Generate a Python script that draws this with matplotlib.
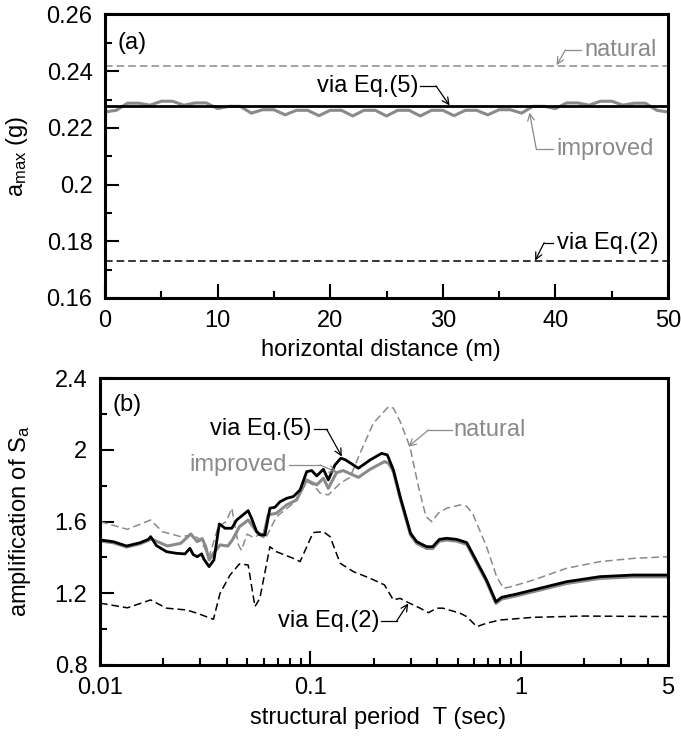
import matplotlib
matplotlib.use("Agg")
import matplotlib.pyplot as plt
from matplotlib.ticker import MultipleLocator, FixedLocator, LogLocator, NullFormatter, FuncFormatter

plt.rcParams['font.family'] = ['Liberation Sans', 'DejaVu Sans']
plt.rcParams['mathtext.fontset'] = 'custom'
plt.rcParams['mathtext.rm'] = 'Liberation Sans'
plt.rcParams['mathtext.it'] = 'Liberation Sans'
plt.rcParams['font.size'] = 17

# ---- (a) peak ground acceleration along the section ----
dist = list(range(0, 51))
amax_improved = [0.2256, 0.2262, 0.2287, 0.2287, 0.2280, 0.2294, 0.2294, 0.2280, 0.2288, 0.2288,
                 0.2268, 0.2276, 0.2276, 0.2252, 0.2264, 0.2264, 0.2246, 0.2262, 0.2262, 0.2243,
                 0.2262, 0.2262, 0.2242, 0.2262, 0.2262, 0.2242, 0.2262, 0.2262, 0.2242, 0.2262,
                 0.2262, 0.2243, 0.2262, 0.2262, 0.2246, 0.2264, 0.2264, 0.2252, 0.2276, 0.2276,
                 0.2268, 0.2288, 0.2288, 0.2280, 0.2294, 0.2294, 0.2280, 0.2287, 0.2287, 0.2262,
                 0.2256]
amax_natural = 0.242
amax_eq5 = 0.2277
amax_eq2 = 0.173

# ---- (b) spectral amplification ----
T_eq5 = [0.01, 0.01157, 0.01339, 0.01549, 0.01698, 0.01742, 0.01855, 0.02074, 0.02313, 0.02534,
         0.02676, 0.02773, 0.02897, 0.0304, 0.0312, 0.0330, 0.0348, 0.0369, 0.0393, 0.0423,
         0.0446, 0.0506, 0.0525, 0.0555, 0.0575, 0.0608, 0.0642, 0.0678, 0.0717, 0.0771,
         0.0830, 0.0893, 0.0960, 0.1014, 0.1071, 0.1152, 0.1216, 0.1307, 0.1395, 0.1465,
         0.169, 0.192, 0.218, 0.232, 0.248, 0.267, 0.287, 0.299, 0.320, 0.357,
         0.381, 0.410, 0.444, 0.495, 0.553, 0.594, 0.687, 0.761, 0.811, 0.955,
         1.146, 1.651, 2.378, 3.425, 5.0]
amp_eq5 = [1.498, 1.488, 1.464, 1.482, 1.501, 1.516, 1.466, 1.432, 1.423, 1.420,
           1.451, 1.416, 1.404, 1.420, 1.390, 1.349, 1.386, 1.587, 1.563, 1.563,
           1.609, 1.661, 1.619, 1.544, 1.526, 1.526, 1.675, 1.680, 1.711, 1.730,
           1.740, 1.777, 1.879, 1.885, 1.855, 1.892, 1.833, 1.916, 1.954, 1.945,
           1.898, 1.944, 1.981, 1.972, 1.888, 1.739, 1.609, 1.535, 1.488, 1.460,
           1.460, 1.501, 1.507, 1.501, 1.483, 1.414, 1.274, 1.153, 1.178, 1.196,
           1.219, 1.265, 1.293, 1.302, 1.302]

T_imp = [0.01, 0.01157, 0.01339, 0.01549, 0.01698, 0.01742, 0.0209, 0.0242, 0.0270, 0.0290,
         0.0306, 0.0318, 0.0330, 0.0346, 0.0372, 0.0405, 0.0426, 0.0460, 0.0506, 0.0555,
         0.0597, 0.0630, 0.0690, 0.0771, 0.0860, 0.0960, 0.1014, 0.1071, 0.1152, 0.1216,
         0.133, 0.143, 0.169, 0.192, 0.225, 0.235, 0.248, 0.267, 0.287, 0.299,
         0.320, 0.357, 0.381, 0.410, 0.444, 0.495, 0.553, 0.594, 0.687, 0.761,
         0.811, 0.955, 1.146, 1.651, 2.378, 3.425, 5.0]
amp_imp = [1.492, 1.482, 1.458, 1.476, 1.495, 1.505, 1.464, 1.479, 1.531, 1.488,
           1.505, 1.460, 1.386, 1.423, 1.470, 1.464, 1.498, 1.572, 1.609, 1.544,
           1.516, 1.637, 1.647, 1.693, 1.721, 1.833, 1.818, 1.805, 1.842, 1.786,
           1.873, 1.885, 1.847, 1.892, 1.935, 1.926, 1.878, 1.729, 1.599, 1.525,
           1.478, 1.450, 1.450, 1.491, 1.497, 1.491, 1.473, 1.404, 1.264, 1.143,
           1.168, 1.186, 1.209, 1.255, 1.283, 1.292, 1.292]

T_nat = [0.01, 0.0135, 0.0174, 0.0198, 0.0242, 0.0275, 0.0300, 0.0330, 0.0365, 0.0398,
         0.0423, 0.0455, 0.0470, 0.0500, 0.0540, 0.0580, 0.0620, 0.0690, 0.0830, 0.0960,
         0.1030, 0.1110, 0.1216, 0.1384, 0.1542, 0.172, 0.199, 0.235, 0.248, 0.267,
         0.297, 0.326, 0.354, 0.377, 0.405, 0.444, 0.514, 0.553, 0.594, 0.687,
         0.767, 0.826, 0.900, 1.146, 1.651, 2.378, 3.425, 5.0]
amp_nat = [1.600, 1.557, 1.609, 1.544, 1.516, 1.526, 1.500, 1.404, 1.572, 1.600,
           1.675, 1.470, 1.440, 1.530, 1.510, 1.535, 1.520, 1.628, 1.702, 1.824,
           1.805, 1.760, 1.749, 1.814, 1.847, 1.981, 2.149, 2.242, 2.233, 2.158,
           2.018, 1.795, 1.628, 1.600, 1.647, 1.675, 1.693, 1.686, 1.637, 1.460,
           1.293, 1.228, 1.237, 1.274, 1.340, 1.377, 1.395, 1.404]

T_eq2 = [0.01, 0.0135, 0.0174, 0.0207, 0.0258, 0.0289, 0.0346, 0.0372, 0.0415, 0.0460,
         0.0506, 0.0545, 0.0575, 0.0642, 0.0690, 0.0830, 0.0893, 0.1030, 0.1152, 0.1240,
         0.1384, 0.160, 0.192, 0.2247, 0.2476, 0.2665, 0.297, 0.332, 0.364, 0.398,
         0.426, 0.514, 0.553, 0.617, 0.687, 0.795, 1.146, 2.0, 5.0]
amp_eq2 = [1.145, 1.119, 1.163, 1.117, 1.107, 1.089, 1.055, 1.200, 1.302, 1.364,
           1.358, 1.126, 1.172, 1.460, 1.432, 1.395, 1.377, 1.539, 1.544, 1.516,
           1.368, 1.321, 1.284, 1.247, 1.163, 1.172, 1.144, 1.117, 1.092, 1.117,
           1.117, 1.089, 1.070, 1.014, 1.033, 1.051, 1.066, 1.073, 1.070]

GREY = '#8a8a8a'
DASH = (0, (5, 2.6))


def frame(ax):
    for s in ax.spines.values():
        s.set_linewidth(2.2)
    ax.tick_params(which='both', direction='in', top=False, right=False,
                   width=1.5, labelsize=17, pad=9)
    ax.tick_params(which='major', length=10)
    ax.tick_params(which='minor', length=5)
    ax.yaxis.set_major_formatter(FuncFormatter(lambda v, p: f'{v:g}'))
    ax.xaxis.set_major_formatter(FuncFormatter(lambda v, p: f'{v:g}'))


def callout(ax, label, text_xy, start, elbow, tip, color, ha):
    # label, short leader to the elbow, then an arrow to the curve
    ax.text(*text_xy, label, color=color, ha=ha, va='center', fontsize=17)
    ax.plot([start[0], elbow[0]], [start[1], elbow[1]], color=color, lw=0.9)
    ax.annotate('', xy=tip, xytext=elbow,
                arrowprops=dict(arrowstyle='->', color=color, lw=0.9,
                                shrinkA=0, shrinkB=0, mutation_scale=12))


fig = plt.figure(figsize=(6.81, 7.42), dpi=100)
ax1 = fig.add_axes([0.1542, 0.5984, 0.8267, 0.3821])
ax2 = fig.add_axes([0.1468, 0.1038, 0.8341, 0.3864])

# (a)
ax1.plot(dist, [amax_natural] * len(dist), color=GREY, lw=1.1, ls=DASH)
ax1.plot(dist, amax_improved, color=GREY, lw=2.2)
ax1.plot(dist, [amax_eq5] * len(dist), color='black', lw=2.0)
ax1.plot(dist, [amax_eq2] * len(dist), color='black', lw=1.1, ls=DASH)
ax1.set_xlim(0, 50)
ax1.set_ylim(0.16, 0.26)
frame(ax1)
ax1.xaxis.set_major_locator(MultipleLocator(10))
ax1.xaxis.set_minor_locator(MultipleLocator(5))
ax1.yaxis.set_major_locator(MultipleLocator(0.02))
ax1.yaxis.set_minor_locator(MultipleLocator(0.01))
ax1.set_xlabel('horizontal distance (m)')
ax1.set_ylabel(r'a$_{\mathregular{max}}$ (g)')
ax1.yaxis.set_label_coords(-0.133, 0.5)
ax1.xaxis.set_label_coords(0.49, -0.145)
ax1.text(1.1, 0.2498, '(a)', ha='left', va='center')

callout(ax1, 'natural', (42.6, 0.2475), (42.3, 0.2475), (40.9, 0.2475), (40.1, 0.2421), GREY, 'left')
callout(ax1, 'via Eq.(5)', (27.8, 0.2348), (28.0, 0.2348), (29.4, 0.2348), (30.6, 0.2279), 'black', 'right')
callout(ax1, 'improved', (40.1, 0.2126), (39.8, 0.2126), (38.3, 0.2126), (37.7, 0.2254), GREY, 'left')
callout(ax1, 'via Eq.(2)', (40.1, 0.1795), (39.8, 0.1795), (39.0, 0.1795), (38.2, 0.1732), 'black', 'left')

# (b)
ax2.set_xscale('log')
ax2.plot(T_nat, amp_nat, color=GREY, lw=1.1, ls=DASH)
ax2.plot(T_eq2, amp_eq2, color='black', lw=1.1, ls=DASH)
ax2.plot(T_imp, amp_imp, color=GREY, lw=2.2)
ax2.plot(T_eq5, amp_eq5, color='black', lw=2.0)
ax2.set_xlim(0.01, 5)
ax2.set_ylim(0.8, 2.4)
frame(ax2)
ax2.xaxis.set_major_locator(FixedLocator([0.01, 0.1, 1, 5]))
ax2.xaxis.set_minor_locator(LogLocator(base=10, subs=range(2, 10)))
ax2.xaxis.set_minor_formatter(NullFormatter())
ax2.yaxis.set_major_locator(MultipleLocator(0.4))
ax2.yaxis.set_minor_locator(MultipleLocator(0.2))
ax2.set_xlabel('structural period  T (sec)')
ax2.set_ylabel(r'amplification of S$_{\mathregular{a}}$')
ax2.yaxis.set_label_coords(-0.118, 0.5)
ax2.xaxis.set_label_coords(0.49, -0.146)
ax2.text(0.01153, 2.251, '(b)', ha='left', va='center')

callout(ax2, 'via Eq.(5)', (0.1015, 2.115), (0.1035, 2.115), (0.1195, 2.115), (0.1410, 1.963), 'black', 'right')
callout(ax2, 'improved', (0.0771, 1.916), (0.0790, 1.916), (0.1112, 1.916), (0.1337, 1.875), GREY, 'right')
callout(ax2, 'natural', (0.4775, 2.111), (0.470, 2.111), (0.3634, 2.111), (0.2917, 2.018), GREY, 'left')
callout(ax2, 'via Eq.(2)', (0.2123, 1.046), (0.216, 1.046), (0.257, 1.046), (0.2917, 1.144), 'black', 'right')

fig.savefig('out.png', dpi=100)
